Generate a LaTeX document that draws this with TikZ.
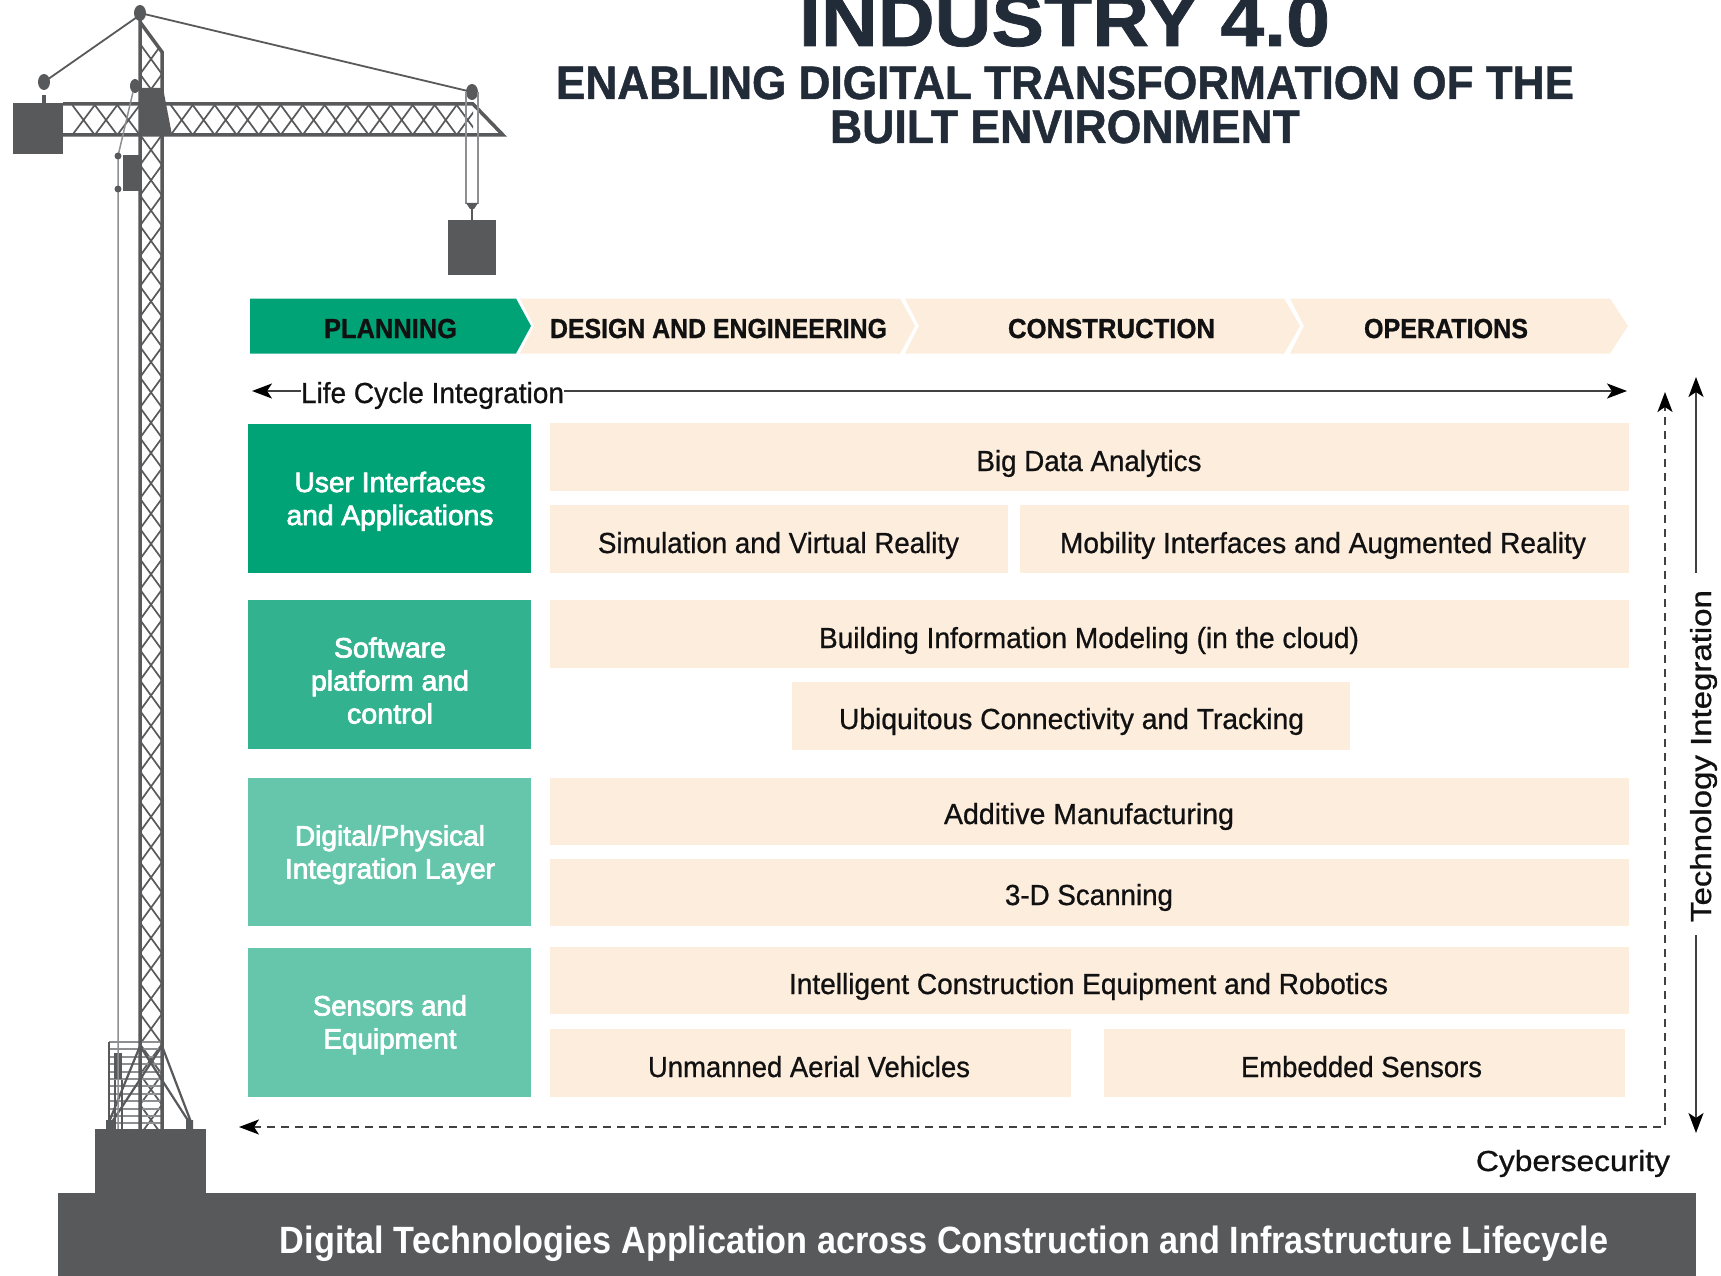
\documentclass[tikz,border=0pt]{standalone}
\usepackage{graphicx}
\usepackage{fontspec}
\setmainfont{Liberation Sans}
\newfontfamily\bodyfont[FakeBold=0.8]{Liberation Sans}
\newfontfamily\medfont[FakeBold=2.6]{Liberation Sans}
\newfontfamily\heavyfont[BoldFeatures={FakeBold=1.0}]{Liberation Sans}
\usetikzlibrary{arrows.meta}
\definecolor{gA}{HTML}{00A375}
\definecolor{gB}{HTML}{33B28F}
\definecolor{gC}{HTML}{66C6AC}
\definecolor{creamc}{HTML}{FCEDDD}
\definecolor{steel}{HTML}{58595B}
\definecolor{navy}{HTML}{222B38}
\definecolor{inkc}{HTML}{111111}
\definecolor{railc}{HTML}{8E8F91}
\tikzset{
  txtbase/.style={anchor=base,inner sep=0pt,outer sep=0pt,text=inkc},
  body/.style={font=\bodyfont\fontsize{29}{33}\selectfont},
  side/.style={font=\medfont\fontsize{28}{33}\selectfont,text=white},
  head/.style={font=\heavyfont\bfseries\fontsize{27.5}{33}\selectfont},
  ttl/.style={font=\heavyfont\bfseries\fontsize{47}{50}\selectfont,text=navy},
  boxn/.style={rectangle,inner sep=0pt,outer sep=0pt,anchor=north west},
  link/.style={draw=inkc!80!white,line width=2pt},
  dashlink/.style={draw=inkc!80!white,line width=2pt,dash pattern=on 8pt off 6pt},
  >={Stealth[length=20pt,width=15pt,inset=5pt,color=black]},
  chord/.style={draw=steel,line width=3.5pt},
  lattice/.style={draw=steel,line width=1.7pt},
  cable/.style={draw=steel,line width=1.8pt},
  rung/.style={draw=railc,line width=2pt},
  thinrope/.style={draw=railc,line width=1.5pt},
}
% name, x1, y1, x2, y2, fill
\newcommand\bx[6]{\node[boxn,fill=#6,minimum width={#4-#2},minimum height={#5-#3}] (#1) at (#2,#3) {};}
% name, centre x, baseline y, width, style, text
\newcommand\lab[6]{\node[txtbase,#5] (#1) at (#2,#3) {\resizebox{#4pt}{\height}{#6}};}
\begin{document}
\begin{tikzpicture}[x=1pt,y=-1pt]
\useasboundingbox (0,0) rectangle (1721,1276);
\fill[white] (0,0) rectangle (1721,1276);

% ---- crane ----
\begin{scope}
  \clip (63,106) rectangle (473,133);
  \foreach \k in {0,...,2} { \pgfmathsetmacro\c{83.5+22.5*\k}
    \draw[lattice] (\c-11.25,105)--(\c+11.25,135) (\c-11.25,135)--(\c+11.25,105); }
  \foreach \k in {0,...,13} { \pgfmathsetmacro\c{181.7+22*\k}
    \draw[lattice] (\c-11,105)--(\c+11,135) (\c-11,135)--(\c+11,105); }
\end{scope}
\begin{scope}
  \clip (140,30) -- (162,52) -- (162,1129) -- (140,1129) -- cycle;
  \foreach \k in {0,...,35} { \pgfmathsetmacro\c{59+30.31*\k}
    \draw[lattice] (140,\c-15.15)--(162,\c+15.15) (140,\c+15.15)--(162,\c-15.15); }
\end{scope}
% cage
\foreach \k in {0,...,11} { \pgfmathsetmacro\c{1042+7.4*\k} \draw[rung] (109,\c)--(162,\c); }
\draw[lattice] (109,1042)--(109,1122) (115,1080)--(115,1129) (122,1080)--(122,1129);
\fill[steel] (114,1053) rectangle (122,1079);
\draw[lattice,line width=2.2pt] (140,1046)--(109,1122) (162,1046)--(112,1122) (140,1046)--(189,1122) (162,1046)--(191,1122);
\fill[steel] (106,1120) rectangle (114,1130) (186,1120) rectangle (193,1130);
% mast, boom
\draw[chord] (140,13)--(140,1129) (140,22)--(162,52)--(162,1129);
\draw[chord] (63,104)--(473,104)--(503,135)--(63,135);
\fill[steel] (140,88)--(163,88)--(172,135)--(140,135)--cycle;
\fill[steel] (13,103) rectangle (63,154);
\fill[steel] (42,95) rectangle (46,104);
\fill[steel] (44,82) ellipse [x radius=6,y radius=8];
\fill[steel] (140,13) ellipse [x radius=6,y radius=8];
\fill[steel] (472,92) ellipse [x radius=6,y radius=8];
\fill[steel] (135,86) ellipse [x radius=5,y radius=7];
\draw[cable] (44,82)--(140,15) (140,13)--(472,92);
\draw[thinrope] (133,92)--(118,156) (118,156)--(118,1129);
\fill[steel] (123,155) rectangle (140,191);
\fill[steel] (118,156) circle (3.5) (118,189) circle (3.5);
\draw[thinrope] (466,92)--(466,204) (478,92)--(478,204);
\fill[steel] (466,203)--(478,203)--(474,209)--(470,209)--cycle;
\fill[steel] (471,208) rectangle (473,221);
\fill[steel] (448,220) rectangle (496,275);
% ground
\fill[steel] (95,1129) rectangle (206,1194);
\node[boxn,fill=steel,minimum width=1638,minimum height=83] (ground) at (58,1193) {};
\lab{groundT}{944}{1253}{1328}{font=\bfseries\fontsize{38}{44}\selectfont,text=white}{Digital Technologies Application across Construction and Infrastructure Lifecycle}

% ---- title ----
\lab{titleA}{1064.5}{46}{531}{ttl,font=\heavyfont\bfseries\fontsize{74}{80}\selectfont}{INDUSTRY 4.0}
\lab{titleB}{1065}{99}{1018}{ttl}{ENABLING DIGITAL TRANSFORMATION OF THE}
\lab{titleC}{1065}{143}{470}{ttl}{BUILT ENVIRONMENT}

% ---- chevrons ----
\fill[gA] (250,298.5)--(516,298.5)--(531,326)--(516,353.5)--(250,353.5)--cycle;
\fill[creamc] (520,298.5)--(900,298.5)--(915,326)--(900,353.5)--(520,353.5)--(534,326)--cycle;
\fill[creamc] (905,298.5)--(1284,298.5)--(1300,326)--(1284,353.5)--(905,353.5)--(919,326)--cycle;
\fill[creamc] (1290,298.5)--(1610,298.5)--(1628,326)--(1610,353.5)--(1290,353.5)--(1304,326)--cycle;
\lab{chA}{390.5}{338}{133}{head}{PLANNING}
\lab{chB}{718.5}{338}{337}{head}{DESIGN AND ENGINEERING}
\lab{chC}{1111.5}{338}{207}{head}{CONSTRUCTION}
\lab{chD}{1446}{338}{164}{head}{OPERATIONS}

% ---- life cycle arrow ----
\lab{lc}{432.5}{403}{263}{body}{Life Cycle Integration}
\coordinate (lcL) at (252,391);
\coordinate (lcR) at (1627,391);
\draw[link,->] (lc.west |- lcL) -- (lcL);
\draw[link,->] (lc.east |- lcR) -- (lcR);

% ---- left column ----
\bx{ui}{248}{424}{531}{573}{gA}
\bx{sw}{248}{600}{531}{749}{gB}
\bx{dp}{248}{778}{531}{926}{gC}
\bx{se}{248}{948}{531}{1097}{gC}
\lab{uiA}{390}{492}{191}{side}{User Interfaces}
\lab{uiB}{390}{525}{207}{side}{and Applications}
\lab{swA}{390}{657.5}{112}{side}{Software}
\lab{swB}{390}{690.5}{158}{side}{platform and}
\lab{swC}{390}{723.5}{86}{side}{control}
\lab{dpA}{390}{845.5}{190}{side}{Digital/Physical}
\lab{dpB}{390}{878.5}{210}{side}{Integration Layer}
\lab{seA}{390}{1015.5}{154}{side}{Sensors and}
\lab{seB}{390}{1048.5}{133}{side}{Equipment}

% ---- right column ----
\bx{bd}{550}{423}{1629}{491}{creamc}
\bx{sim}{550}{505}{1008}{573}{creamc}
\bx{mob}{1019.5}{505}{1629}{573}{creamc}
\bx{bim}{550}{600}{1629}{668}{creamc}
\bx{ubq}{792}{682}{1350}{750}{creamc}
\bx{add}{550}{778}{1629}{845}{creamc}
\bx{scan}{550}{859}{1629}{926}{creamc}
\bx{icr}{550}{947}{1629}{1014}{creamc}
\bx{uav}{550}{1029}{1071}{1097}{creamc}
\bx{emb}{1104}{1029}{1625}{1097}{creamc}
\lab{bdT}{1089}{471}{225}{body}{Big Data Analytics}
\lab{simT}{778.5}{553}{361}{body}{Simulation and Virtual Reality}
\lab{mobT}{1323}{553}{526}{body}{Mobility Interfaces and Augmented Reality}
\lab{bimT}{1089}{648}{540}{body}{Building Information Modeling (in the cloud)}
\lab{ubqT}{1071.5}{729}{465}{body}{Ubiquitous Connectivity and Tracking}
\lab{addT}{1089}{824}{290}{body}{Additive Manufacturing}
\lab{scanT}{1089}{905}{168}{body}{3-D Scanning}
\lab{icrT}{1088.5}{994}{599}{body}{Intelligent Construction Equipment and Robotics}
\lab{uavT}{809}{1077}{322}{body}{Unmanned Aerial Vehicles}
\lab{embT}{1361.5}{1077}{241}{body}{Embedded Sensors}

% ---- cybersecurity and technology arrows ----
\coordinate (dashL) at (239,1127);
\coordinate (dashC) at (1665,1127);
\coordinate (dashT) at (1665,392);
\draw[dashlink,<->] (dashL) -- (dashC) -- (dashT);
\lab{cyb}{1573}{1171}{194}{body}{Cybersecurity}
\node[txtbase,body,rotate=90] (tech) at (1711,756) {\resizebox{332pt}{\height}{Technology Integration}};
\coordinate (techT) at (1696,377);
\coordinate (techTe) at (1696,573);
\coordinate (techB) at (1696,1133);
\coordinate (techBe) at (1696,935);
\draw[link,->] (techTe) -- (techT);
\draw[link,->] (techBe) -- (techB);
\end{tikzpicture}
\end{document}
